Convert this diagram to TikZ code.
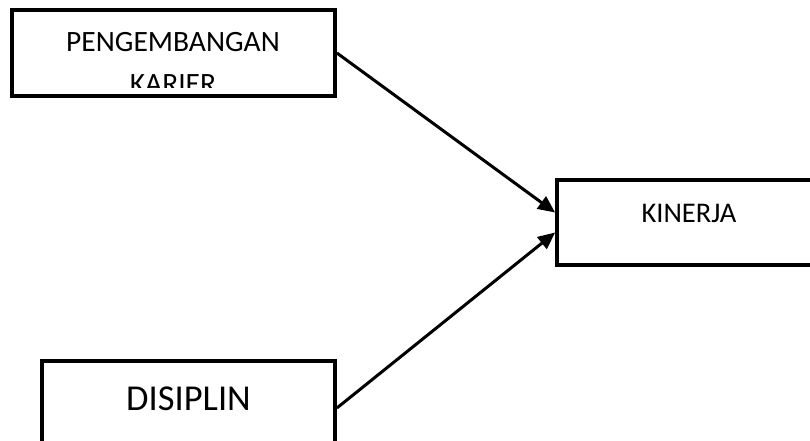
\documentclass[tikz,border=0pt]{standalone}
\usepackage{fontspec}
\setmainfont{Carlito}
\usetikzlibrary{arrows.meta}

\begin{document}
\begin{tikzpicture}[x=1pt,y=-1pt,
  box/.style={draw,line width=3.8pt,rectangle,inner sep=0pt},
  arr/.style={line width=3pt,-{Triangle[length=17pt,width=15pt]}}]
\useasboundingbox (0,0) rectangle (810,441);
\clip (0,0) rectangle (810,441);

%boxes
\node[box,minimum width=323pt,minimum height=86pt] (karier) at (173.5,53) {};
\node[box,minimum width=280pt,minimum height=85pt] (kinerja) at (697,222.5) {};
\node[box,minimum width=293pt,minimum height=94pt] (disiplin) at (188.5,408) {};

%texts
\begin{scope}
\clip (14,12) rectangle (333,88);
\node[anchor=base,font=\fontsize{29.5}{42}\selectfont,align=center] (kariertxt) at (173,94) {PENGEMBANGAN\\KARIER};
\end{scope}
\node[anchor=base,font=\fontsize{28.5}{34}\selectfont] (kinerjatxt) at (689,222) {KINERJA};
\node[anchor=base,font=\fontsize{36.5}{44}\selectfont] (disiplintxt) at (188.5,410) {DISIPLIN};

%arrows (yshift is on the page, upwards)
\coordinate (in1) at ([yshift=10pt]kinerja.west);
\coordinate (in2) at ([yshift=-10pt]kinerja.west);
\draw[arr] (karier.east) -- (in1);
\draw[arr] (disiplin.east) -- (in2);
\end{tikzpicture}
\end{document}
